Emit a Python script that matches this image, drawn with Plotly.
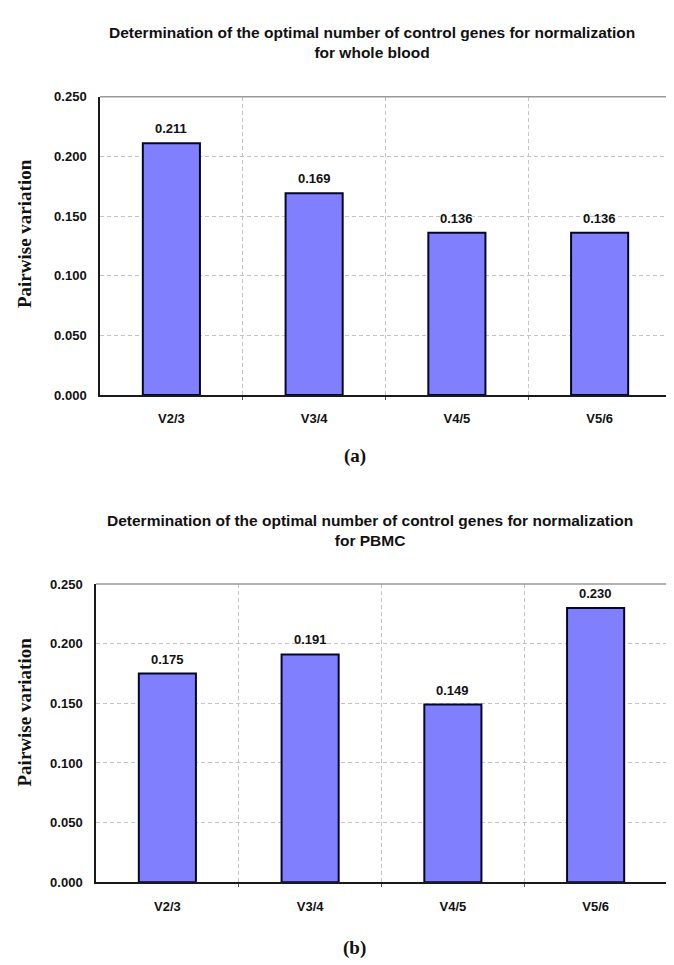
import plotly.graph_objects as go

categories = ["V2/3", "V3/4", "V4/5", "V5/6"]
whole_blood = [0.211, 0.169, 0.136, 0.136]
pbmc = [0.175, 0.191, 0.149, 0.230]
titles = [
    "Determination of the optimal number of control genes for normalization<br>for whole blood",
    "Determination of the optimal number of control genes for normalization<br>for PBMC",
]
panel_labels = ["(a)", "(b)"]
y_ticks = [0.0, 0.05, 0.10, 0.15, 0.20, 0.25]

W, H = 674, 965
BAR_COLOR = "#8080FF"
SANS = "Liberation Sans, Arial, sans-serif"
SERIF = "Liberation Serif, Times New Roman, serif"
TXT = "#111111"

fig = go.Figure()

panels = [
    dict(vals=whole_blood, x0=92, x1=663, y0=83, y1=386, tx=364, ty=7,
         lab_y=448, ytc=222, xa="x", ya="y"),
    dict(vals=pbmc, x0=88, x1=659, y0=578, y1=881, tx=362, ty=503,
         lab_y=948, ytc=708, xa="x2", ya="y2"),
]

xpos = list(range(len(categories)))
annotations = []
for i, p in enumerate(panels):
    fig.add_trace(go.Bar(
        x=xpos, y=p["vals"], width=0.4,
        marker=dict(color=BAR_COLOR, line=dict(color="#05052a", width=2)),
        showlegend=False, hoverinfo="skip",
        xaxis=p["xa"], yaxis=p["ya"],
    ))
    for xv, v in zip(xpos, p["vals"]):
        annotations.append(dict(
            text=f"{v:.3f}", x=xv, y=v, xref=p["xa"], yref=p["ya"],
            xanchor="center", yanchor="bottom", yshift=5, showarrow=False,
            font=dict(family=SANS, size=13, color=TXT, weight="bold"),
        ))
    xk = "xaxis" if i == 0 else "xaxis2"
    yk = "yaxis" if i == 0 else "yaxis2"
    fig.layout[xk] = dict(
        domain=[p["x0"] / W, p["x1"] / W], anchor=p["ya"],
        range=[-0.5, 3.5], tickvals=xpos, ticktext=categories,
        tickfont=dict(family=SANS, size=13, color=TXT, weight="bold"),
        showgrid=False, zeroline=False,
        showline=True, linecolor="#1a1a1a", linewidth=1.5, mirror=False,
        ticks="", ticklabelstandoff=11,
        minor=dict(tickvals=[0.5, 1.5, 2.5], showgrid=True, gridcolor="#c4c4c4",
                   griddash="4px,3px", gridwidth=1, ticks="outside", ticklen=3,
                   tickcolor="#555555", tickwidth=1),
    )
    fig.layout[yk] = dict(
        domain=[1 - p["y1"] / H, 1 - p["y0"] / H], anchor=p["xa"],
        range=[0, 0.25], tickvals=y_ticks, tickformat=".3f",
        tickfont=dict(family=SANS, size=13, color=TXT, weight="bold"),
        showgrid=True, gridcolor="#c4c4c4", griddash="4px,3px", gridwidth=1,
        zeroline=False, showline=True, linecolor="#1a1a1a", linewidth=1.5,
        ticks="", ticklabelstandoff=9,
    )
    # top and right frame (lighter grey)
    fig.add_shape(type="line", xref=f"{p['xa']} domain", yref=f"{p['ya']} domain",
                  x0=0, x1=1, y0=1, y1=1, line=dict(color="#999999", width=1.5))
    fig.add_shape(type="line", xref=f"{p['xa']} domain", yref=f"{p['ya']} domain",
                  x0=1, x1=1, y0=0, y1=1, line=dict(color="#999999", width=1.5))

    annotations.append(dict(
        text=titles[i], x=p["tx"] / W, y=1 - p["ty"] / H,
        xref="paper", yref="paper", xanchor="center", yanchor="top",
        showarrow=False, align="center",
        font=dict(family=SANS, size=15.5, color=TXT, weight="bold"),
    ))
    annotations.append(dict(
        text="Pairwise variation", x=16.5 / W, y=1 - p["ytc"] / H,
        xref="paper", yref="paper", xanchor="center", yanchor="middle", textangle=-90,
        showarrow=False, font=dict(family=SERIF, size=19, color=TXT, weight="bold"),
    ))
    annotations.append(dict(
        text=panel_labels[i], x=347 / W, y=1 - p["lab_y"] / H,
        xref="paper", yref="paper", xanchor="center", yanchor="middle",
        showarrow=False, font=dict(family=SERIF, size=19, color=TXT, weight="bold"),
    ))

fig.update_layout(
    width=W, height=H, margin=dict(l=0, r=0, t=0, b=0),
    paper_bgcolor="white", plot_bgcolor="white",
    annotations=annotations,
)

fig.write_html("out.html")
